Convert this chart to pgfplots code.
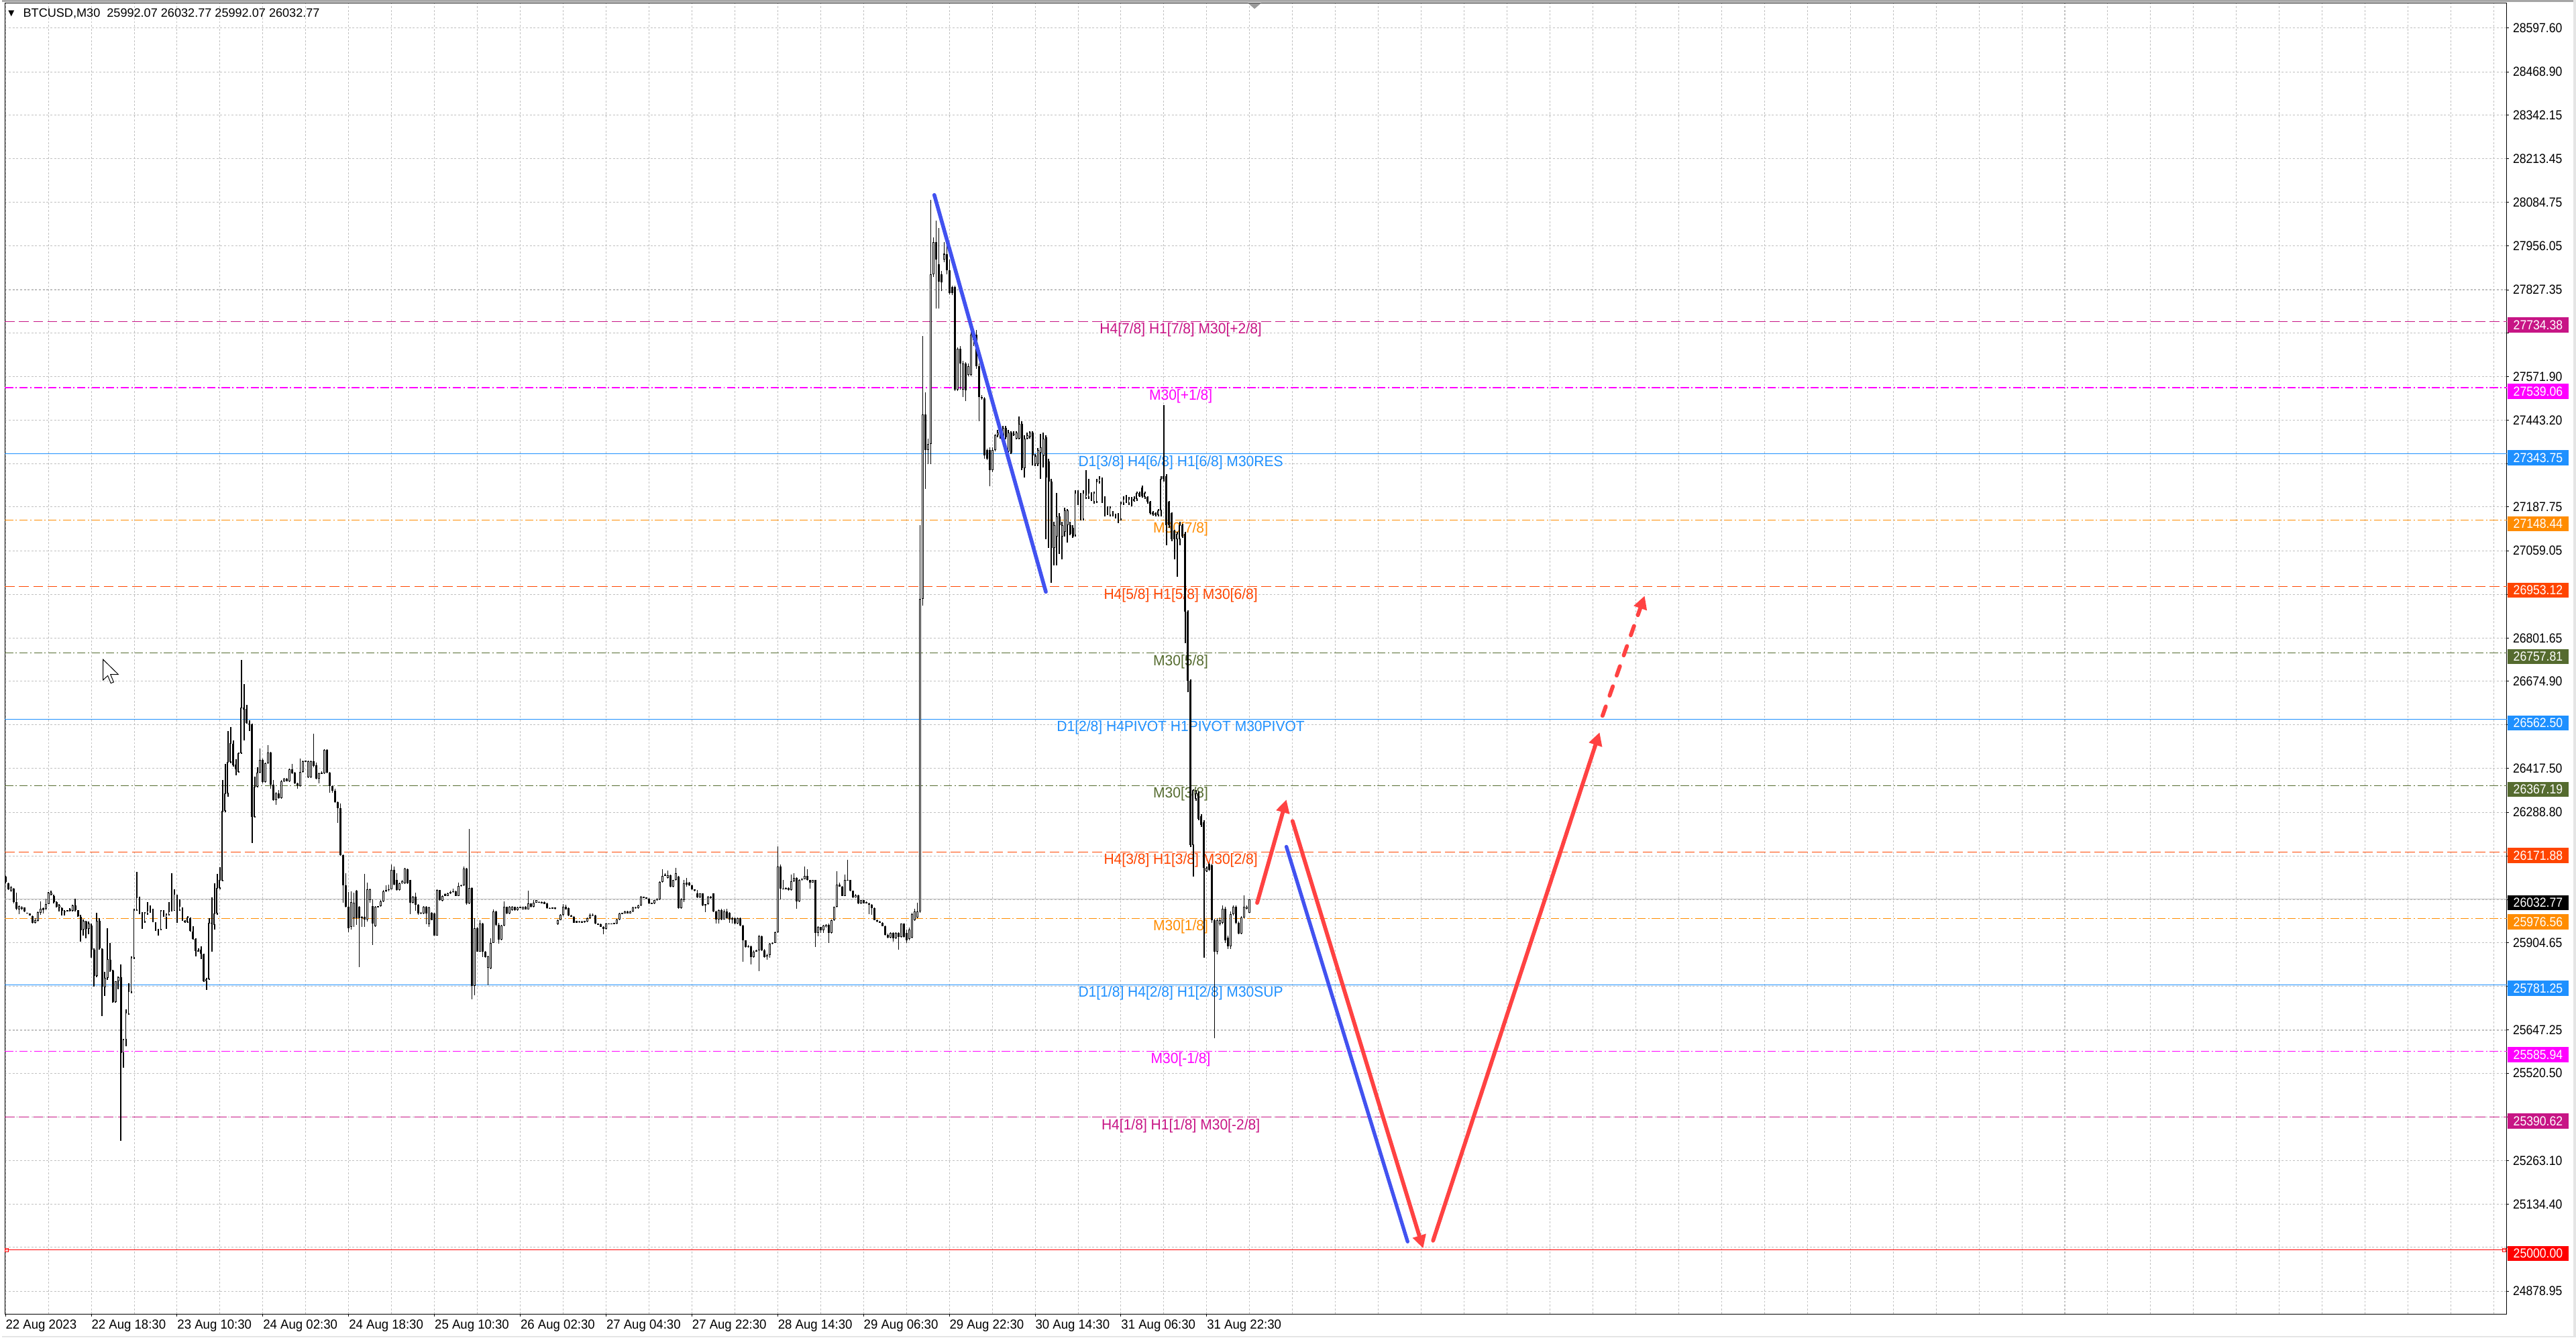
\documentclass[border=0pt]{standalone}
\usepackage{fontspec}
\setmainfont{Liberation Sans}
\newfontfamily\lblfont[FakeStretch=0.9]{Liberation Sans}
\newfontfamily\datefont[FakeStretch=0.95]{Liberation Sans}
\newfontfamily\lvlfont[FakeStretch=0.955]{Liberation Sans}
\newfontfamily\symfont{DejaVu Sans}
\usepackage{pgfplots}
\pgfplotsset{compat=1.18}
\usepackage{pgfplotstable}
\usetikzlibrary{arrows.meta}

\definecolor{mvred}{RGB}{199,21,133}
\definecolor{mag}{RGB}{255,0,255}
\definecolor{dblue}{RGB}{30,144,255}
\definecolor{dorange}{RGB}{255,140,0}
\definecolor{ored}{RGB}{255,69,0}
\definecolor{dolive}{RGB}{85,107,47}
\definecolor{gridgray}{RGB}{192,192,192}
\definecolor{arrred}{RGB}{255,66,66}
\definecolor{arrblue}{RGB}{66,82,240}

% BTCUSD M30 candles: bar index, open, high, low, close
\pgfplotstableread{
i o h l c
0 26099 26101 26080 26083
1 26080 26082 26060 26062
2 26058 26072 26055 26068
3 26063 26065 26021 26024
4 26024 26052 26001 26004
5 26003 26015 25989 26013
6 26008 26013 26001 26007
7 26008 26009 25994 25996
8 25992 25993 25991 25992
9 25990 25991 25984 25985
10 25982 25984 25962 25964
11 25964 25977 25962 25972
12 25970 25996 25967 25994
13 25992 26026 25987 26004
14 26001 26009 25990 26006
15 26004 26034 26001 26018
16 26018 26055 26018 26053
17 26047 26057 26045 26053
18 26043 26046 26021 26024
19 26024 26026 26009 26011
20 26009 26018 25997 26015
21 26007 26009 25984 25999
22 25996 26000 25984 25996
23 25999 26000 25998 25999
24 26001 26006 25996 26001
25 25998 26016 25996 26014
26 26015 26034 25997 26000
27 26000 26001 25980 25982
28 25980 25987 25908 25941
29 25943 25974 25925 25969
30 25967 25969 25918 25945
31 25945 25967 25930 25962
32 25956 25962 25860 25884
33 25884 25889 25776 25808
34 25808 25992 25804 25969
35 25969 25977 25884 25889
36 25886 25889 25688 25776
37 25774 25820 25747 25801
38 25801 25947 25796 25857
39 25855 25904 25820 25822
40 25822 25825 25729 25730
41 25730 25791 25729 25791
42 25791 25806 25767 25804
43 25804 25840 25321 25580
44 25580 25622 25536 25620
45 25620 25708 25600 25698
46 25695 25786 25693 25762
47 25759 25864 25755 25860
48 25860 26004 25857 26001
49 26001 26114 25999 26039
50 26039 26041 25989 25992
51 25992 25994 25946 25967
52 25967 25994 25964 25992
53 25992 26025 25987 25999
54 25999 26014 25992 26000
55 26001 26005 25966 25967
56 25964 25966 25939 25941
57 25939 25945 25925 25943
58 25943 26001 25941 25999
59 25999 26001 25980 25982
60 25980 25990 25945 25986
61 25986 26024 25984 25997
62 25997 26109 25997 26000
63 25998 26061 25998 26048
64 26045 26047 25964 26001
65 26001 26033 25999 26013
66 26007 26009 25970 25972
67 25970 25972 25964 25965
68 25965 25982 25964 25979
69 25977 25979 25938 25940
70 25938 25953 25913 25915
71 25915 25917 25865 25881
72 25881 25889 25878 25881
73 25884 25894 25857 25872
74 25871 25872 25789 25791
75 25791 25801 25765 25798
76 25798 25977 25796 25964
77 25962 26039 25879 25964
78 25957 26080 25943 25990
79 25990 26107 25987 26065
80 26065 26127 26062 26090
81 26088 26383 26085 26292
82 26292 26432 26290 26344
83 26344 26527 26334 26437
84 26437 26540 26434 26493
85 26491 26501 26423 26427
86 26430 26445 26398 26415
87 26408 26464 26405 26462
88 26462 26738 26460 26597
89 26597 26667 26501 26591
90 26594 26604 26550 26552
91 26550 26560 26528 26549
92 26548 26550 26199 26276
93 26276 26393 26274 26364
94 26364 26422 26362 26405
95 26405 26476 26403 26444
96 26444 26447 26373 26377
97 26377 26436 26376 26434
98 26434 26486 26432 26465
99 26465 26467 26359 26369
100 26369 26383 26323 26325
101 26325 26349 26310 26344
102 26344 26354 26328 26330
103 26330 26383 26328 26380
104 26380 26390 26377 26388
105 26388 26389 26379 26380
106 26380 26417 26378 26415
107 26415 26432 26401 26403
108 26405 26407 26372 26374
109 26374 26376 26359 26368
110 26366 26447 26364 26408
111 26408 26442 26405 26440
112 26440 26441 26439 26440
113 26391 26442 26389 26439
114 26391 26442 26389 26439
115 26439 26520 26422 26425
116 26427 26436 26386 26388
117 26388 26405 26373 26403
118 26403 26410 26403 26405
119 26403 26475 26401 26473
120 26473 26475 26403 26405
121 26405 26407 26346 26367
122 26367 26368 26346 26352
123 26352 26359 26316 26318
124 26318 26320 26258 26300
125 26300 26315 26160 26163
126 26163 26165 26023 26073
127 26073 26109 26009 26011
128 26011 26055 25936 25948
129 25950.9 26056.1 25943 26024.6
130 25977.2 26052.8 25950.9 26023.2
131 26057.4 26059.4 25957.5 25977.2
132 26010.1 26013.4 25833.8 25977.2
133 25977.2 25983.8 25950.9 25980.5
134 25980.5 26106.8 25950.9 25973.9
135 25973.9 26082.4 25967.3 26062.7
136 26029.8 26064 26023.2 26062.7
137 26013.4 26033.1 25898.3 25960.8
138 25954.2 26013.4 25950.9 26010.1
139 26010.1 26013.4 26008.8 26011.4
140 26013.4 26029.8 26010.1 26026.5
141 26026.5 26059.4 26024.6 26056.1
142 26056.1 26074.5 26054.8 26059.4
143 26059.4 26075.8 26056.1 26062.7
144 26062.7 26135 26061.4 26118.6
145 26118.6 26128.5 26074.5 26075.8
146 26089 26108.7 26057.4 26059.4
147 26059.4 26082.4 26057.4 26079.1
148 26079.1 26089 26077.1 26085.7
149 26079.1 26125.2 26077.1 26123.2
150 26121.9 26123.9 26077.1 26079.1
151 26089 26090.3 25989 26021.9
152 26021.9 26041.6 26019.9 26039.7
153 26039.7 26052.8 25998.3 26016.7
154 26016.7 26018 25987 25990.4
155 25990.4 25995.6 25989 25993.6
156 25990.4 26013.4 25989 26011.4
157 26011.4 26012.7 25958.8 25990.4
158 25958.8 26010.1 25952.2 26008.8
159 25993.6 25995.6 25970.6 25971.9
160 25990.4 25993.6 25925.9 25926.6
161 25926.6 26061.4 25925.9 26059.4
162 26059.4 26060.7 26028.5 26029.8
163 26028.5 26044.3 26027.2 26043
164 26043 26049.5 26041.7 26047.6
165 26043 26052.8 26041.7 26049.5
166 26049.5 26058.7 26048.2 26054.1
167 26054.1 26064 26052.8 26056.1
168 26056.1 26057.4 26041.7 26043
169 26043 26082.4 26041.7 26072.5
170 26072.5 26075.8 26070.6 26074.5
171 26074.5 26128.5 26072.5 26123.9
172 26123.9 26125.2 26016.7 26019.9
173 26019.9 26240.2 26018 26066
174 26066 26068 25737.2 25776.6
175 25776.6 25977.2 25750.3 25947.6
176 25947.6 25950.9 25877.3 25878.6
177 25878.6 25970.6 25877.3 25960.8
178 25960.8 25964.1 25862.1 25878.6
179 25878.6 25879.9 25860.8 25862.1
180 25830.6 25866.7 25779.9 25865.4
181 25829.3 25918 25827.9 25904.9
182 25904.9 26003.5 25903.5 25996.9
183 25996.9 25998.3 25954.2 25957.5
184 25957.5 25964.1 25901.6 25914.7
185 25914.7 25957.5 25911.4 25955.5
186 25955.5 26026.5 25954.2 26010.1
187 26010.1 26011.4 25989 25990.4
188 25990.4 26013.4 25989 26010.1
189 26000.2 26012.7 25998.3 26011.4
190 26010.1 26011.4 25998.9 26000.2
191 26000.2 26010.1 25998.9 26008.1
192 26008.8 26010.1 26007.5 26008.8
193 26003.5 26011.4 26002.2 26010.1
194 26011.4 26012.7 26002.2 26003.5
195 26003.5 26057.4 26002.2 26019.9
196 26019.9 26021.2 26008.8 26010.1
197 26010.1 26029.8 26008.8 26023.2
198 26023.2 26031.1 26021.9 26029.8
199 26023.2 26026.5 26021.9 26024.6
200 26021.9 26025.9 26020.6 26024.6
201 26024.6 26025.9 26018 26019.3
202 26021.2 26022.6 26005.5 26006.8
203 26006.8 26008.1 26004.2 26005.5
204 26004.8 26009.4 26004.2 26008.8
205 26004.8 26008.8 26003.5 26008.1
206 25958.8 25973.9 25957.5 25971.9
207 25971.9 25988.4 25970.6 25987
208 25987 26018 25983.8 26010.1
209 26010.1 26016.7 26002.2 26003.5
210 26006.8 26008.8 25983.8 25985.1
211 25985.1 25986.4 25980.5 25981.8
212 25981.8 25983.8 25962.7 25964
213 25964 25969 25962.7 25968.7
214 25965.4 25968.7 25964 25967.4
215 25964 25968.7 25962.7 25967.4
216 25965.4 25970 25964 25968.7
217 25967.4 25978.5 25966 25977.2
218 25977.2 25990.4 25975.9 25987.7
219 25987.7 25990.4 25983.8 25985.1
220 25985.1 25987 25959.5 25960.8
221 25960.8 25962.1 25958.2 25959.5
222 25958.8 25960.8 25950.9 25952.2
223 25952.2 25953.5 25929.2 25945.6
224 25945.6 25964.1 25943 25960.8
225 25960.8 25962.1 25959.5 25960.8
226 25960.8 25962.1 25959.5 25960.8
227 25960.8 25964.1 25959.5 25962.7
228 25960.8 25975.3 25959.5 25973.9
229 25973.9 25993.6 25971.9 25991.7
230 25991.7 25993 25990.4 25991.7
231 25991.7 25998.3 25990.4 25996.9
232 25996.9 25998.3 25990.4 25991.7
233 25991.7 25998.3 25990.4 25996.9
234 25996.9 26010.1 25995.6 26008.8
235 26008.8 26010.1 26005.5 26006.8
236 26006.8 26016.7 26005.5 26015.3
237 26015.3 26043 26013.4 26039.7
238 26039.7 26041 26036.4 26037.7
239 26037.7 26039 26033.8 26035.1
240 26035.1 26036.4 26018.6 26019.9
241 26019.9 26022.6 26018.6 26021.2
242 26019.9 26031.1 26018.6 26029.8
243 26029.8 26036.4 26028.5 26033.1
244 26033.1 26085.7 26031.1 26083.7
245 26083.7 26121.9 26082.4 26102.1
246 26102.1 26108.7 26100.8 26105.4
247 26095.6 26116.6 26094.3 26103.5
248 26103.5 26104.8 26067.9 26069.3
249 26069.3 26090.3 26067.9 26089
250 26089 26125.2 26087.7 26110
251 26098.9 26102.1 26005.5 26006.8
252 26006.8 26036.4 26005.5 26033.1
253 26029.8 26090 26025.2 26080
254 26082.4 26095 26070 26075
255 26082.4 26083.7 26072.5 26073.9
256 26073.9 26075.2 26060.1 26061.4
257 26061.4 26062.7 26056.1 26057.4
258 26049.5 26059.4 26036.4 26037.7
259 26037.7 26050.9 26036.4 26049.5
260 26049.5 26050.9 26013.4 26015.3
261 26015.3 26019.3 25995 26018
262 26018 26041.6 26016.7 26039.7
263 26039.7 26043 26035.1 26036.4
264 26049.5 26050.9 25995.6 25996.9
265 25996.9 25998.3 25960.8 25973.9
266 25973.9 26003.5 25960.8 26000.2
267 26000.2 26004.8 25971.9 25973.9
268 25973.9 26003.5 25972.6 25996.9
269 25996.9 26004.8 25975.9 25977.2
270 25993.6 25995 25964 25973.9
271 25973.9 25980.5 25960.8 25977.2
272 25977.2 25978.5 25958.8 25960.8
273 25960.8 25978.5 25959.5 25977.2
274 25977.2 25978.5 25954.2 25955.5
275 25955.5 25956.8 25849 25911.4
276 25911.4 25912.8 25890.4 25891.7
277 25891.7 25898.3 25890.4 25895
278 25895 25896.3 25840.4 25862.1
279 25862.1 25881.8 25860.8 25878.6
280 25878.6 25885.1 25877.3 25881.8
281 25881.8 25927.9 25820.7 25924.6
282 25924.6 25925.9 25880.5 25881.8
283 25881.8 25886.4 25860.8 25862.1
284 25862.1 25872 25855.5 25868.7
285 25868.7 25904.9 25860.1 25901.6
286 25901.6 25906.2 25900.3 25904.9
287 25904.9 25937.7 25903.5 25936.4
288 25936.4 26187.6 25934.4 26128.5
289 26128.5 26135 26033.1 26064
290 26064 26090.3 26061.4 26062.7
291 26062.7 26067.9 26061.4 26066
292 26066 26067.3 26057.4 26059.4
293 26059.4 26105.4 26058.1 26085.7
294 26085.7 26108.7 26084.4 26095.6
295 26095.6 26096.9 26004.8 26026.5
296 26026.5 26092.3 26025.2 26089
297 26089 26095.6 26087.7 26092.3
298 26092.3 26128.5 26091 26102.1
299 26102.1 26121.9 26087.7 26089
300 26089 26090.3 26064 26082.4
301 26082.4 26090.3 26081.1 26089
302 26089 26090.3 25891.7 25933.1
303 25933.1 25954.2 25924.6 25950.9
304 25950.9 25952.2 25934.4 25941
305 25941 25957.5 25934.4 25956.2
306 25950.9 25958.8 25949.6 25957.5
307 25957.5 25960.8 25904.9 25934.4
308 25934.4 25972.6 25931.2 25970.6
309 25970.6 26011.4 25969.3 26010.1
310 26010.1 26115.3 26008.8 26075.8
311 26075.8 26082.4 26069.3 26070.6
312 26070.6 26071.9 26041.7 26043
313 26043 26105.4 26041.7 26089
314 26089 26148.2 26087.7 26089
315 26089 26090.3 26056.1 26057.4
316 26057.4 26058.7 26036.4 26037.7
317 26037.7 26047.6 26036.4 26044.3
318 26044.3 26045.6 26018.6 26019.9
319 26019.9 26031.1 26018.6 26029.8
320 26029.8 26031.1 26019.9 26021.2
321 26021.2 26026.5 26019.9 26024.6
322 26021.2 26023.2 25989 26016.7
323 26016.7 26018 25987 26006.8
324 26006.8 26008.1 25970.6 25971.9
325 25971.9 25973.2 25966 25967.4
326 25967.4 25968.7 25962.7 25964
327 25964 25965.4 25952.9 25954.2
328 25954.2 25955.5 25926.6 25927.9
329 25927.9 25931.2 25918 25919.3
330 25919.3 25935.8 25918 25934.5
331 25934.5 25935.8 25908.2 25918
332 25918 25935.8 25916.7 25934.5
333 25934.5 25935.8 25885.1 25921.3
334 25921.3 25962.1 25920 25960.8
335 25960.8 25962.1 25920 25921.3
336 25934 25942.5 25903.4 25911.9
337 25915.3 25949.3 25911.9 25942.5
338 25920.4 25993.5 25917 25988.4
339 25971.4 26005.4 25969.7 25996.9
340 25979.9 26022.4 25976.5 25996.9
341 25996.9 27134.8 25993.5 26917.4
342 26917.4 27690.2 26897 27460.9
343 27460.9 27525.4 27240.1 27355.6
344 27355.6 27389.6 27313.1 27372.6
345 27372.6 28091 27313.1 27873.6
346 27873.6 27980.6 27865.1 27967
347 27967 28029.9 27771.7 27916
348 27902.5 28009.5 27771.7 27851.5
349 27873.6 27882.1 27822.6 27848.1
350 27916.1 27967 27907.6 27933
351 27933 27958.5 27873.6 27885.5
352 27885.5 27916.1 27814.1 27817.5
353 27836.2 27839.6 27810.8 27817.5
354 27836.2 27839.6 27528.8 27534
355 27534 27657.9 27528.8 27652.8
356 27652.8 27661.3 27534 27610.3
357 27534 27618.8 27511.8 27610.3
358 27610.3 27613.7 27499.9 27530.5
359 27576.4 27610.3 27573 27601.9
360 27576.4 27703.8 27573 27695.3
361 27703.8 27708.9 27661.3 27678.3
362 27695.3 27708.9 27593.4 27601.9
363 27601.9 27610.3 27440.5 27511.8
364 27511.8 27516.9 27503.3 27508.2
365 27508.2 27511.8 27330.1 27338.6
366 27355.6 27359 27325 27330.1
367 27355.6 27364.1 27248.6 27296.1
368 27296.1 27364.1 27291 27355.6
369 27355.6 27403.2 27352.2 27398.1
370 27398.1 27415 27393 27406.5
371 27398.1 27406.5 27389.6 27399.8
372 27393 27427 27389.6 27420.1
373 27420.1 27427 27386.2 27393
374 27350.5 27415 27347.1 27406.5
375 27406.5 27409.9 27343.7 27347.1
376 27403.2 27409.9 27396.4 27401.5
377 27389.6 27411.6 27386.2 27406.5
378 27389.6 27454.1 27386.2 27432
379 27432 27440.5 27296.1 27301.2
380 27301.2 27398.1 27274.1 27389.6
381 27389.6 27406.5 27386.2 27398.1
382 27394.7 27411.6 27389.6 27406.5
383 27406.5 27409.9 27309.7 27338.6
384 27313.1 27343.7 27308 27338.6
385 27313.1 27360.7 27308 27355.6
386 27347.1 27403.2 27270.7 27364.1
387 27338.6 27406.5 27304.6 27389.6
388 27393 27398.1 27092.3 27274.1
389 27321.6 27330.1 27066.8 27262.2
390 27262.2 27270.7 26964.9 27066.8
391 27066.8 27143.3 27015.9 27134.8
392 27100.8 27228.2 27015.9 27160.3
393 27160.3 27168.8 27049.9 27134.8
394 27100.8 27143.3 27032.9 27134.8
395 27114.4 27185.8 27100.8 27177.3
396 27134.8 27182.4 27083.8 27177.3
397 27134.8 27143.3 27104.2 27109.3
398 27126.3 27134.8 27097.4 27100.8
399 27104.2 27236.7 27100.8 27228.2
400 27228.2 27236.7 27194.2 27199.3
401 27219.7 27228.2 27148.4 27151.8
402 27151.8 27236.7 27148.4 27228.2
403 27216.3 27296.1 27211.2 27223.1
404 27216.3 27270.7 27211.2 27228.2
405 27228.2 27231.6 27206.1 27211.2
406 27202.7 27233.3 27197.6 27228.2
407 27202.7 27270.7 27199.3 27262.2
408 27262.2 27279.2 27257.1 27270.7
409 27267.3 27274.1 27199.3 27202.7
410 27216.3 27219.7 27160.3 27172.1
411 27185.8 27189.2 27163.7 27168.8
412 27163.7 27189.2 27160.3 27185.8
413 27172.1 27175.6 27160.3 27163.7
414 27163.7 27167.1 27153.5 27156.9
415 27163.7 27168.8 27139.9 27143.3
416 27151.8 27202.7 27148.4 27197.6
417 27199.3 27219.7 27194.2 27211.2
418 27216.3 27223.1 27199.3 27202.7
419 27199.3 27216.3 27194.2 27211.2
420 27211.2 27216.3 27189.2 27194.2
421 27206.1 27219.7 27202.7 27211.2
422 27211.2 27233.3 27206.1 27228.2
423 27228.2 27233.3 27216.3 27219.7
424 27245.2 27250.3 27214.6 27219.7
425 27216.3 27233.3 27211.2 27228.2
426 27216.3 27219.7 27197.6 27202.7
427 27202.7 27206.1 27165.4 27168.8
428 27172.1 27175.6 27162 27165.4
429 27168.8 27172.1 27160.3 27163.7
430 27163.7 27180.7 27160.3 27177.3
431 27177.3 27279.2 27160.3 27270.7
432 27279.2 27488.1 27262.2 27270.7
433 27279.2 27284.3 27075.3 27134.8
434 27202.7 27206.1 27126.3 27134.8
435 27168.8 27172.1 27087.2 27092.3
436 27117.8 27121.2 27032.9 27092.3
437 27092.3 27114.4 26981.9 27109.3
438 27092.3 27143.3 27075.3 27134.8
439 27134.8 27138.2 27097.4 27100.8
440 27109.3 27114.4 26786.6 26880
441 26880 26883.4 26642.3 26676.2
442 26676.2 26679.6 26187.1 26192.2
443 26192.2 26356.9 26098.8 26353.5
444 26328 26353.5 26322.9 26345
445 26345 26350.1 26265.2 26268.6
446 26277.1 26282.2 26246.5 26251.6
447 26260.1 26265.2 25861 26124.2
448 26115.7 26129.3 26112.3 26124.2
449 26136.1 26141.2 26115.7 26119.1
450 26132.7 26137.8 25962.9 25971.4
451 25971.4 25974.8 25623.2 25878
452 25878 25976.5 25869.5 25971.4
453 25959.5 25979.9 25954.4 25971.4
454 25962.9 26013.9 25959.5 26005.4
455 26005.4 26010.5 25903.4 25911.9
456 25920.4 25925.5 25886.5 25895
457 25895 25996.9 25886.5 25988.4
458 25988.4 26013.9 25985 26010.5
459 26010.5 26013.9 25959.5 25962.9
460 25962.9 25966.3 25929 25932.4
461 25932.4 25983.3 25929 25979.9
462 25979.9 26044.4 25976.5 26010.5
463 26005.4 26014 26002 26010.5
464 25992.07 26032.77 25992.07 26032.77
}\candles

\tikzset{
  dsh/.style={dash pattern=on 6pt off 2.6pt},
  ddot/.style={dash pattern=on 5pt off 1.5pt on 0.8pt off 1.5pt},
  lvl/.style={anchor=north, inner sep=0pt, yshift=-0.8pt, font=\lvlfont\fontsize{9}{10}\selectfont},
  pbox/.style={anchor=west, inner sep=0pt, xshift=0.4pt, yshift=-2.2pt, minimum width=37pt, minimum height=9.2pt, text=white, font=\lblfont\fontsize{8}{9}\selectfont},
  tip/.style={-{Triangle[length=8pt,width=8pt]}}
}

\begin{document}
\begin{tikzpicture}[x=1pt,y=1pt]
\path (0,0) rectangle (1568,815);
\begin{axis}[
  at={(1.8pt,14.3pt)}, anchor=south west,
  scale only axis, width=1524pt, height=798.8pt,
  xmin=-0.18, xmax=932.8, ymin=24811.2, ymax=28671.3,
  clip=false, set layers,
  scaled x ticks=false, scaled y ticks=false,
  axis line style={black, line width=0.5pt},
  xtick={0,32,...,448},
  xticklabels={22 Aug 2023, 22 Aug 18:30, 23 Aug 10:30, 24 Aug 02:30, 24 Aug 18:30, 25 Aug 10:30, 26 Aug 02:30, 27 Aug 04:30, 27 Aug 22:30, 28 Aug 14:30, 29 Aug 06:30, 29 Aug 22:30, 30 Aug 14:30, 31 Aug 06:30, 31 Aug 22:30},
  minor x tick num=1,
  extra x ticks={464,480,...,928},
  extra x tick style={major tick length=0pt, xticklabel={}},
  ytick={28597.60,28468.90,28342.15,28213.45,28084.75,27956.05,27827.35,27700.60,27571.90,27443.20,27314.50,27187.75,27059.05,26930.35,26801.65,26674.90,26546.20,26417.50,26288.80,26160.10,26031.40,25904.65,25775.95,25647.25,25520.50,25391.80,25263.10,25134.40,25007.65,24878.95},
  yticklabels={28597.60,28468.90,28342.15,28213.45,28084.75,27956.05,27827.35,{},27571.90,27443.20,{},27187.75,27059.05,{},26801.65,26674.90,{},26417.50,26288.80,{},{},25904.65,{},25647.25,25520.50,{},25263.10,25134.40,{},24878.95},
  xtick pos=left, ytick pos=right, yticklabel pos=right,
  tick align=outside,
  major tick length=1.3pt, minor tick length=0pt,
  tick style={black, line width=0.4pt},
  xmajorgrids, xminorgrids, ymajorgrids,
  major grid style={gridgray, line width=0.42pt, dash pattern=on 1.2pt off 1.1pt},
  minor grid style={gridgray, line width=0.42pt, dash pattern=on 1.2pt off 1.1pt},
  xticklabel style={font=\datefont\fontsize{8}{9}\selectfont, inner sep=0pt, anchor=north west, yshift=-1.9pt},
  yticklabel style={font=\lblfont\fontsize{8}{9}\selectfont, inner sep=0pt, anchor=west, xshift=2.3pt},
]

% Murrey math levels
\addplot[mvred, line width=0.42pt, dsh, forget plot] coordinates {(-0.18,27734.38) (932.8,27734.38)};
\addplot[mag, line width=0.42pt, ddot, forget plot] coordinates {(-0.18,27539.06) (932.8,27539.06)};
\addplot[dblue, line width=0.42pt, forget plot] coordinates {(-0.18,27343.75) (932.8,27343.75)};
\addplot[dorange, line width=0.42pt, ddot, forget plot] coordinates {(-0.18,27148.44) (932.8,27148.44)};
\addplot[ored, line width=0.42pt, dsh, forget plot] coordinates {(-0.18,26953.12) (932.8,26953.12)};
\addplot[dolive, line width=0.42pt, ddot, forget plot] coordinates {(-0.18,26757.81) (932.8,26757.81)};
\addplot[dblue, line width=0.42pt, forget plot] coordinates {(-0.18,26562.50) (932.8,26562.50)};
\addplot[dolive, line width=0.42pt, ddot, forget plot] coordinates {(-0.18,26367.19) (932.8,26367.19)};
\addplot[ored, line width=0.42pt, dsh, forget plot] coordinates {(-0.18,26171.88) (932.8,26171.88)};
\addplot[dorange, line width=0.42pt, ddot, forget plot] coordinates {(-0.18,25976.56) (932.8,25976.56)};
\addplot[dblue, line width=0.42pt, forget plot] coordinates {(-0.18,25781.25) (932.8,25781.25)};
\addplot[mag, line width=0.42pt, ddot, forget plot] coordinates {(-0.18,25585.94) (932.8,25585.94)};
\addplot[mvred, line width=0.42pt, dsh, forget plot] coordinates {(-0.18,25390.62) (932.8,25390.62)};
\addplot[red, line width=0.45pt, forget plot] coordinates {(-0.18,25000) (932.8,25000)};
\addplot[red, only marks, mark=square, mark size=1pt, mark options={line width=0.4pt}, forget plot] coordinates {(0.4,25000) (931.8,25000)};
\addplot[gridgray, line width=0.45pt, forget plot] coordinates {(-0.18,26032.77) (932.8,26032.77)};

\node[lvl, text=mvred] at (axis cs:438.3,27734.38) {H4[7/8] H1[7/8] M30[+2/8]};
\node[lvl, text=mag] at (axis cs:438.3,27539.06) {M30[+1/8]};
\node[lvl, text=dblue] at (axis cs:438.3,27343.75) {D1[3/8] H4[6/8] H1[6/8] M30RES};
\node[lvl, text=dorange] at (axis cs:438.3,27148.44) {M30[7/8]};
\node[lvl, text=ored] at (axis cs:438.3,26953.12) {H4[5/8] H1[5/8] M30[6/8]};
\node[lvl, text=dolive] at (axis cs:438.3,26757.81) {M30[5/8]};
\node[lvl, text=dblue] at (axis cs:438.3,26562.50) {D1[2/8] H4PIVOT H1PIVOT M30PIVOT};
\node[lvl, text=dolive] at (axis cs:438.3,26367.19) {M30[3/8]};
\node[lvl, text=ored] at (axis cs:438.3,26171.88) {H4[3/8] H1[3/8] M30[2/8]};
\node[lvl, text=dorange] at (axis cs:438.3,25976.56) {M30[1/8]};
\node[lvl, text=dblue] at (axis cs:438.3,25781.25) {D1[1/8] H4[2/8] H1[2/8] M30SUP};
\node[lvl, text=mag] at (axis cs:438.3,25585.94) {M30[-1/8]};
\node[lvl, text=mvred] at (axis cs:438.3,25390.62) {H4[1/8] H1[1/8] M30[-2/8]};

% candles: wicks, bodies, hollow inside of rising bars
\addplot[forget plot, draw=none, mark=none,
  error bars/.cd, y dir=both, y explicit, error mark=none,
  error bar style={draw=black, line width=0.5pt, solid}]
  table[x=i, y expr={0.5*(\thisrow{h}+\thisrow{l})}, y error expr={0.5*(\thisrow{h}-\thisrow{l})}] {\candles};
\addplot[forget plot, draw=none, mark=none,
  error bars/.cd, y dir=both, y explicit, error mark=none,
  error bar style={draw=black, line width=1.2pt, solid}]
  table[x=i, y expr={0.5*(\thisrow{o}+\thisrow{c})}, y error expr={max(0.5*abs(\thisrow{c}-\thisrow{o}),1)}] {\candles};
\addplot[forget plot, draw=none, mark=none,
  error bars/.cd, y dir=both, y explicit, error mark=none,
  error bar style={draw=white, line width=0.32pt, solid}]
  table[x=i, y expr={\thisrow{c}-\thisrow{o}>5 ? 0.5*(\thisrow{o}+\thisrow{c}) : nan}, y error expr={0.5*abs(\thisrow{c}-\thisrow{o})-2}] {\candles};

% drawn trend line and forecast arrows
\addplot[arrblue, line width=2.3pt, line cap=round, forget plot] coordinates {(346.4,28106.3) (388.0,26937.7)};
\addplot[arrblue, line width=2.2pt, line cap=round, forget plot] coordinates {(477.7,26187.4) (522.9,25024.6)};
\addplot[arrred, line width=2.4pt, line cap=round, tip, forget plot] coordinates {(466.8,26022.2) (477.7,26326.1)};
\addplot[arrred, line width=2.4pt, line cap=round, tip, forget plot] coordinates {(480.0,26262.8) (528.7,25004.8)};
\addplot[arrred, line width=2.4pt, line cap=round, tip, forget plot] coordinates {(532.4,25027.5) (594.5,26524.1)};
\addplot[arrred, line width=2.4pt, line cap=round, dash pattern=on 6pt off 7pt, tip, forget plot] coordinates {(595.6,26572.9) (611.3,26926.1)};

\node[anchor=west, inner sep=0pt, font=\symfont\fontsize{4.8}{5}\selectfont] at (axis cs:0.92,28640.6) {▼};
\node[anchor=west, inner sep=0pt, font=\fontsize{7.4}{8}\selectfont] at (axis cs:6.5,28640.6) {BTCUSD,M30\ \ 25992.07 26032.77 25992.07 26032.77};

\begin{pgfonlayer}{axis foreground}
\node[pbox, fill=mvred] at (axis cs:932.8,27734.38) {27734.38};
\node[pbox, fill=mag] at (axis cs:932.8,27539.06) {27539.06};
\node[pbox, fill=dblue] at (axis cs:932.8,27343.75) {27343.75};
\node[pbox, fill=dorange] at (axis cs:932.8,27148.44) {27148.44};
\node[pbox, fill=ored] at (axis cs:932.8,26953.12) {26953.12};
\node[pbox, fill=dolive] at (axis cs:932.8,26757.81) {26757.81};
\node[pbox, fill=dblue] at (axis cs:932.8,26562.50) {26562.50};
\node[pbox, fill=dolive] at (axis cs:932.8,26367.19) {26367.19};
\node[pbox, fill=ored] at (axis cs:932.8,26171.88) {26171.88};
\node[pbox, fill=black] at (axis cs:932.8,26032.77) {26032.77};
\node[pbox, fill=dorange] at (axis cs:932.8,25976.56) {25976.56};
\node[pbox, fill=dblue] at (axis cs:932.8,25781.25) {25781.25};
\node[pbox, fill=mag] at (axis cs:932.8,25585.94) {25585.94};
\node[pbox, fill=mvred] at (axis cs:932.8,25390.62) {25390.62};
\node[pbox, fill=red] at (axis cs:932.8,25000) {25000.00};
\end{pgfonlayer}
\end{axis}
% window frame, chart-shift marker and mouse pointer of the screenshot
\fill[black!35] (0,813.9) rectangle (1568,815);
\fill[black!10] (0,0) rectangle (1568,0.8);
\fill[black!10] (1566.5,0) rectangle (1568,815);
\fill[black!40] (759,813.1) -- (767,813.1) -- (763,809.6) -- cycle;
\filldraw[fill=white, draw=black, line width=0.4pt]
  (61.5,413.2) -- (61.5,400.6) -- (64.4,403.3) -- (66.3,398.7) -- (68,399.4) -- (66.1,404) -- (70.9,404) -- cycle;
\end{tikzpicture}
\end{document}
